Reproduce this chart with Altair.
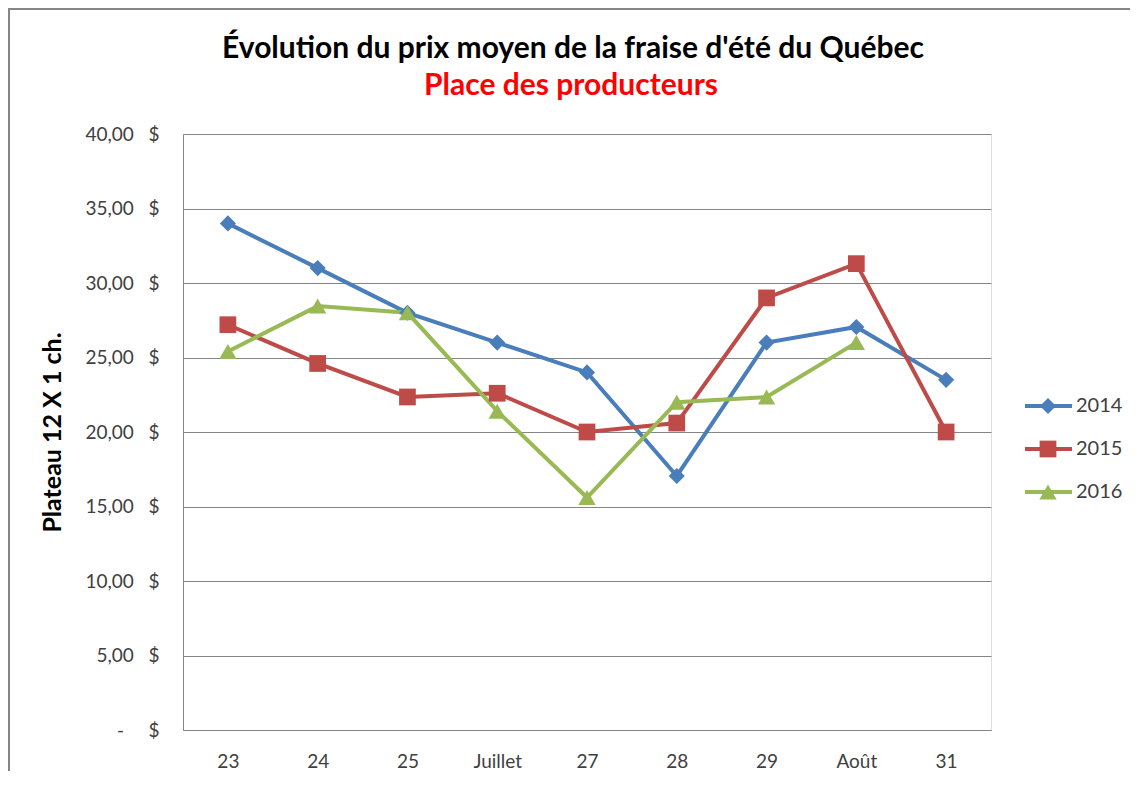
import altair as alt
import pandas as pd

categories = ["23", "24", "25", "Juillet", "27", "28", "29", "Août", "31"]
series_names = ["2014", "2015", "2016"]
v2014 = [34.0, 31.0, 28.0, 26.0, 24.0, 17.05, 26.0, 27.05, 23.5]
v2015 = [27.2, 24.6, 22.35, 22.6, 20.0, 20.6, 29.0, 31.3, 20.0]
v2016 = [25.4, 28.45, 28.0, 21.4, 15.6, 22.0, 22.35, 26.0, None]
colors = ["#4A7EBB", "#BE4B48", "#98B954"]
shapes = ["diamond", "square", "triangle-up"]
sizes = [260, 300, 240]
title_text = ["Évolution du prix moyen de la fraise d'été du Québec"]
subtitle_text = ["Place des producteurs"]

rows = []
for s, vals in zip(series_names, [v2014, v2015, v2016]):
    for i, (c, v) in enumerate(zip(categories, vals)):
        if v is not None:
            rows.append({"cat": c, "series": s, "value": v, "order": i})
df = pd.DataFrame(rows)
leg = pd.DataFrame({"series": series_names})

FONT = "Lato"
TXT = "#404040"
NB = "\u00a0"

color_enc = alt.Color("series:N", scale=alt.Scale(domain=series_names, range=colors), legend=None)
shape_enc = alt.Shape("series:N", scale=alt.Scale(domain=series_names, range=shapes), legend=None)
size_enc = alt.Size("series:N", scale=alt.Scale(domain=series_names, range=sizes), legend=None)

label_expr = ("datum.value == 0 ? '-" + NB * 5 + "$' : replace(format(datum.value, '.2f'), '.', ',') + '"
              + NB * 3 + "$'")

x_enc = alt.X("cat:N", sort=categories,
              scale=alt.Scale(type="point", padding=0.5),
              axis=alt.Axis(title=None, labelAngle=0, ticks=False, grid=False,
                            domainColor="#868686", labelFontSize=19, labelFont=FONT,
                            labelColor=TXT, labelPadding=22))
y_enc = alt.Y("value:Q", scale=alt.Scale(domain=[0, 40], nice=False),
              axis=alt.Axis(values=[0, 5, 10, 15, 20, 25, 30, 35, 40],
                            labelExpr=label_expr,
                            ticks=False, gridColor="#868686", domainColor="#868686",
                            labelFontSize=19, labelFont=FONT, labelColor=TXT,
                            labelPadding=24,
                            title="Plateau 12 X 1 ch.", titleFont=FONT, titleFontSize=25,
                            titleFontWeight="bold", titleColor="#000000",
                            titleX=-131, titleY=298, titleAngle=-90,
                            titleAlign="center", titleBaseline="middle"))

lines = alt.Chart(df).mark_line(strokeWidth=4).encode(
    x=x_enc, y=y_enc, color=color_enc, order="order:Q")
points = alt.Chart(df).mark_point(filled=True, opacity=1).encode(
    x=x_enc, y=y_enc, color=color_enc, shape=shape_enc, size=size_enc)
data_layer = alt.layer(lines, points)

ly = alt.Y("series:N", scale=alt.Scale(type="point", padding=0, domain=series_names,
                                       range=[272, 358]), axis=None)
leg_rule = alt.Chart(leg).mark_rule(strokeWidth=4).encode(
    x=alt.value(842), x2=alt.value(889), y=ly, color=color_enc)
leg_pt = alt.Chart(leg).mark_point(filled=True, opacity=1).encode(
    x=alt.value(865), y=ly, color=color_enc, shape=shape_enc, size=size_enc)
leg_txt = alt.Chart(leg).mark_text(align="left", baseline="middle", fontSize=20,
                                   font=FONT, color=TXT).encode(
    x=alt.value(893), y=ly, text="series:N")
legend_layer = alt.layer(leg_rule, leg_pt, leg_txt)

frame = alt.Chart(pd.DataFrame({"a": [0]})).mark_rect(
    fill="transparent", stroke="#868686", strokeWidth=2).encode(
    x=alt.value(-174), y=alt.value(-125), x2=alt.value(1100), y2=alt.value(800))

title_mark = alt.Chart(pd.DataFrame({"t": title_text})).mark_text(
    font=FONT, fontSize=30, fontWeight="bold", color="#000000",
    align="center", baseline="alphabetic").encode(
    x=alt.value(390), y=alt.value(-76), text="t:N")
subtitle_mark = alt.Chart(pd.DataFrame({"t": subtitle_text})).mark_text(
    font=FONT, fontSize=30, fontWeight="bold", color="#FF0000",
    align="center", baseline="alphabetic").encode(
    x=alt.value(388), y=alt.value(-39), text="t:N")

chart = alt.layer(frame, title_mark, subtitle_mark, data_layer, legend_layer).resolve_scale(
    y="independent"
).properties(
    width=808, height=596,
    padding={"left": 175, "top": 126, "right": 139, "bottom": 41},
    autosize=alt.AutoSizeParams(type="none"),
).configure_view(stroke=None).configure(background="white")

chart.save("out.html", embed_options={"renderer": "svg", "actions": False})
